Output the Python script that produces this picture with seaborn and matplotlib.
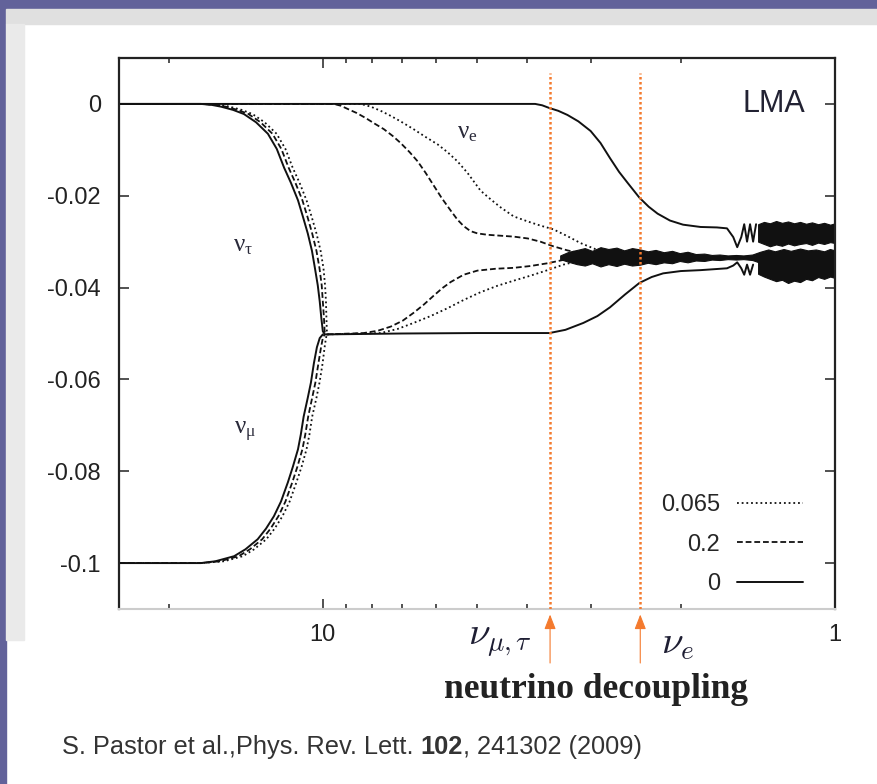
import numpy as np
import pandas as pd
import matplotlib
matplotlib.use("Agg")
import matplotlib.pyplot as plt
import seaborn as sns
from matplotlib.lines import Line2D
from matplotlib.patches import Rectangle

# ---------------- data ----------------
# theta13 = 0 (solid)
T_nue_0 = [25, 10, 5, 3.85, 3.73, 3.61, 3.47, 3.33, 3.17, 3.00, 2.87, 2.75, 2.64, 2.54, 2.41,
           2.31, 2.22, 2.10, 1.98, 1.83, 1.70, 1.625,
           1.58, 1.552, 1.524, 1.504, 1.485, 1.465, 1.445, 1.426]
V_nue_0 = [0, 0, 0, 0, -0.0003, -0.0009, -0.0015, -0.0024, -0.0038, -0.0059, -0.0085, -0.0118,
           -0.0148, -0.0172, -0.0204, -0.0224, -0.0239, -0.0254, -0.0263, -0.0268, -0.0269, -0.0271,
           -0.0290, -0.0312, -0.0290, -0.0262, -0.0300, -0.0262, -0.0300, -0.0262]

T_nutau_0 = [25, 20, 17.3, 16.5, 15.8, 14.97, 14.26, 13.5, 12.8, 12.3, 11.9, 11.54, 11.18, 10.94,
             10.7, 10.5, 10.36, 10.23, 10.14, 10.07, 10.0, 9.91, 7.0, 5.0, 3.61, 3.36, 3.10, 2.91,
             2.75, 2.57, 2.41, 2.28, 2.165, 2.0, 1.83, 1.625,
             1.58, 1.552, 1.524, 1.504, 1.485, 1.465, 1.445]
V_nutau_0 = [0, 0, 0, -0.0002, -0.0006, -0.0013, -0.0022, -0.0040, -0.0065, -0.0098, -0.0139,
             -0.0172, -0.0210, -0.0245, -0.0282, -0.0320, -0.0358, -0.0395, -0.0430, -0.0465,
             -0.0495, -0.0502, -0.0500, -0.0499, -0.0499, -0.0492, -0.0477, -0.0462, -0.0443,
             -0.0415, -0.0390, -0.0377, -0.0369, -0.0364, -0.0362, -0.0358,
             -0.0352, -0.0345, -0.0358, -0.0372, -0.0350, -0.0372, -0.0350]

T_numu_0 = [25, 20, 17.3, 16.2, 14.9, 14.16, 13.4, 12.91, 12.46, 12.07, 11.7, 11.44, 11.18, 11.04,
            10.9, 10.7, 10.55, 10.41, 10.27, 10.14, 10.0]
V_numu = [-0.1, -0.1, -0.1, -0.0996, -0.0985, -0.0970, -0.0948, -0.0925, -0.0898, -0.0866,
          -0.0824, -0.0790, -0.0752, -0.0720, -0.0681, -0.0640, -0.0607, -0.0565, -0.0530,
          -0.0510, -0.0502]

# theta13 = 0.2 (dashed)
T_nue_02 = [25, 10, 9.52, 9.22, 8.94, 8.58, 8.24, 7.92, 7.60, 7.30, 7.05, 6.77, 6.53, 6.30, 6.08,
            5.86, 5.63, 5.46, 5.31, 5.15, 4.99, 4.77, 4.50, 4.24, 3.98, 3.76, 3.55, 3.33, 3.14,
            2.94, 2.75]
V_nue_02 = [0, 0, 0, -0.0004, -0.0011, -0.0020, -0.0031, -0.0043, -0.0055, -0.0070, -0.0085,
            -0.0105, -0.0125, -0.0150, -0.0177, -0.0205, -0.0232, -0.0252, -0.0266, -0.0277,
            -0.0282, -0.0285, -0.0287, -0.0289, -0.0293, -0.0300, -0.0310, -0.0319, -0.0325,
            -0.0331, -0.0334]
T_nutau_02 = [25, 20, 17.3, 16.17, 15.48, 14.67, 13.97, 13.23, 12.54, 12.05, 11.66, 11.31, 10.96,
              10.72, 10.49, 10.29, 10.15, 10.05, 10.0, 9.95, 9.92, 9.87,
              8.32, 7.81, 7.37, 6.98, 6.65, 6.35, 6.08, 5.84, 5.63, 5.31, 4.99, 4.60, 4.24, 3.93,
              3.64, 3.40, 3.21, 3.00]
V_nutau_02 = [0, 0, 0, -0.0002, -0.0006, -0.0013, -0.0022, -0.0040, -0.0065, -0.0098, -0.0139,
              -0.0172, -0.0210, -0.0245, -0.0282, -0.0320, -0.0358, -0.0395, -0.0430, -0.0465,
              -0.0495, -0.0502,
              -0.0499, -0.0494, -0.0485, -0.0472, -0.0455, -0.0437, -0.0418, -0.0401, -0.0388,
              -0.0372, -0.0363, -0.0359, -0.0357, -0.0353, -0.0347, -0.0340, -0.0336, -0.0334]
T_numu_02 = [25, 20, 17.3, 15.88, 14.6, 13.88, 13.13, 12.65, 12.21, 11.83, 11.47, 11.21, 10.96,
             10.82, 10.68, 10.49, 10.34, 10.2, 10.08, 10.0, 9.92]

# theta13 = 0.065 (dotted)
T_nue_0065 = [25, 10, 8.43, 8.06, 7.71, 7.37, 7.05, 6.65, 6.30, 5.97, 5.71, 5.46, 5.22, 4.92, 4.70,
              4.50, 4.24, 3.98, 3.76, 3.55, 3.33, 3.14, 2.94, 2.71, 2.51]
V_nue_0065 = [0, 0, 0, -0.0006, -0.0015, -0.0026, -0.0038, -0.0055, -0.0072, -0.0088, -0.0105,
              -0.0125, -0.0150, -0.0189, -0.0208, -0.0225, -0.0245, -0.0256, -0.0265, -0.0273,
              -0.0288, -0.0303, -0.0316, -0.0326, -0.0332]
T_nutau_0065 = [25, 20, 17.3, 15.87, 15.2, 14.4, 13.72, 12.99, 12.31, 11.83, 11.45, 11.1, 10.76,
                10.52, 10.29, 10.10, 9.97, 9.90, 9.86, 9.84, 9.82, 9.80,
                7.71, 7.14, 6.65, 6.16, 5.71, 5.31, 4.92, 4.56, 4.24, 3.93, 3.64, 3.39, 3.14, 2.91,
                2.71]
V_nutau_0065 = [0, 0, 0, -0.0002, -0.0006, -0.0013, -0.0022, -0.0040, -0.0065, -0.0098, -0.0139,
                -0.0172, -0.0210, -0.0245, -0.0282, -0.0320, -0.0358, -0.0395, -0.0430, -0.0465,
                -0.0495, -0.0502,
                -0.0499, -0.0490, -0.0477, -0.0462, -0.0445, -0.0427, -0.0410, -0.0396, -0.0385,
                -0.0374, -0.0362, -0.0350, -0.0341, -0.0336, -0.0334]
T_numu_0065 = [25, 20, 17.3, 15.58, 14.33, 13.62, 12.89, 12.42, 11.99, 11.61, 11.26, 11.0, 10.76,
               10.62, 10.49, 10.29, 10.15, 10.01, 9.92, 9.86, 9.82]

# oscillation bands (edges)
T_bandB = [3.44, 3.31, 3.19, 3.08, 2.98, 2.87, 2.77, 2.67, 2.58, 2.49, 2.40, 2.32, 2.24, 2.16,
           2.08, 2.01, 1.94, 1.87, 1.80, 1.74, 1.68, 1.62, 1.56, 1.51, 1.45, 1.40, 1.35, 1.31,
           1.26, 1.22, 1.17, 1.13, 1.09, 1.05, 1.023, 1.0]
B_up = [-0.0330, -0.0322, -0.0318, -0.0314, -0.0320, -0.0312, -0.0316, -0.0313, -0.0319, -0.0314,
        -0.0317, -0.0321, -0.0318, -0.0323, -0.0320, -0.0325, -0.0322, -0.0327, -0.0326, -0.0329,
        -0.0328, -0.0330, -0.0329, -0.0330, -0.0328, -0.0322, -0.0317, -0.0321, -0.0316, -0.0320,
        -0.0315, -0.0319, -0.0317, -0.0321, -0.0316, -0.0319]
B_lo = [-0.0338, -0.0344, -0.0349, -0.0352, -0.0347, -0.0354, -0.0349, -0.0353, -0.0348, -0.0352,
        -0.0350, -0.0346, -0.0349, -0.0345, -0.0347, -0.0342, -0.0345, -0.0341, -0.0342, -0.0339,
        -0.0340, -0.0338, -0.0339, -0.0338, -0.0340, -0.0346, -0.0350, -0.0347, -0.0352, -0.0348,
        -0.0353, -0.0349, -0.0351, -0.0347, -0.0352, -0.0349]

T_bandAC = [1.413, 1.376, 1.340, 1.303, 1.269, 1.235, 1.202, 1.170, 1.139, 1.109, 1.079, 1.050,
            1.022, 1.0]
A_up = [-0.0262, -0.0257, -0.0260, -0.0255, -0.0259, -0.0256, -0.0260, -0.0257, -0.0261, -0.0258,
        -0.0262, -0.0259, -0.0263, -0.0260]
A_lo = [-0.0300, -0.0305, -0.0310, -0.0306, -0.0309, -0.0304, -0.0308, -0.0305, -0.0303, -0.0307,
        -0.0302, -0.0305, -0.0301, -0.0303]
C_up = [-0.0340, -0.0337, -0.0339, -0.0336, -0.0338, -0.0335, -0.0337, -0.0336, -0.0338, -0.0335,
        -0.0337, -0.0336, -0.0338, -0.0336]
C_lo = [-0.0370, -0.0376, -0.0381, -0.0386, -0.0383, -0.0390, -0.0385, -0.0388, -0.0381, -0.0384,
        -0.0377, -0.0381, -0.0376, -0.0379]

T_decoupling = [3.6, 2.4]
legend_labels = ["0.065", "0.2", "0"]
x_major = [10, 1]
x_major_labels = ["10", "1"]
x_minor = [20, 9, 8, 7, 6, 5, 4, 3, 2]
y_ticks = [0, -0.02, -0.04, -0.06, -0.08, -0.1]
y_tick_labels = ["0", "-0.02", "-0.04", "-0.06", "-0.08", "-0.1"]

# ---------------- style ----------------
sns.set_style("ticks")
plt.rcParams["font.family"] = ["Liberation Sans", "DejaVu Sans"]
plt.rcParams["mathtext.fontset"] = "custom"
plt.rcParams["mathtext.rm"] = "Liberation Serif"
plt.rcParams["mathtext.it"] = "Liberation Serif:italic"
plt.rcParams["axes.unicode_minus"] = False

W, H = 878, 784
fig = plt.figure(figsize=(W / 100, H / 100), dpi=100, facecolor="white")

purple = "#62629a"
fig.patches.append(Rectangle((0, 1 - 9 / H), 1, 9 / H, transform=fig.transFigure,
                             color=purple, zorder=-10))
fig.patches.append(Rectangle((0, 0), 6 / W, 1, transform=fig.transFigure, color=purple, zorder=-10))
fig.patches.append(Rectangle((6 / W, 1 - 24 / H), 1, 15 / H, transform=fig.transFigure,
                             color="#e0e0e0", zorder=-9))
fig.patches.append(Rectangle((6 / W, 1 - 640 / H), 18 / W, 616 / H, transform=fig.transFigure,
                             color="#eaeaea", zorder=-9))

ax = fig.add_axes([119 / W, 1 - 609 / H, (835 - 119) / W, (609 - 58) / H])
ax.set_xscale("log")

black = "#111111"
solid = "-"
dashed = (0, (3.2, 1.6))
dotted = (0, (1.0, 1.6))


def draw(T, V, ls, lw=1.3):
    sns.lineplot(x=T, y=V, ax=ax, color=black, linewidth=lw, linestyle=ls,
                 sort=False, estimator=None, legend=False)


draw(T_nue_0065, V_nue_0065, dotted)
draw(T_nutau_0065, V_nutau_0065, dotted)
draw(T_numu_0065, V_numu, dotted)
draw(T_nue_02, V_nue_02, dashed)
draw(T_nutau_02, V_nutau_02, dashed)
draw(T_numu_02, V_numu, dashed)
draw(T_nue_0, V_nue_0, solid, 1.4)
draw(T_nutau_0, V_nutau_0, solid, 1.4)
draw(T_numu_0, V_numu, solid, 1.4)

for Tb, up, lo in [(T_bandAC, A_up, A_lo), (T_bandB, B_up, B_lo), (T_bandAC, C_up, C_lo)]:
    ax.fill_between(Tb, lo, up, color=black, linewidth=0.8, edgecolor=black)

orange = "#f47a2e"
for Td in T_decoupling:
    ax.axvline(Td, ymin=0, ymax=0.973, color=orange, lw=1.8, linestyle=(0, (1.0, 1.0)), zorder=5)
    ax.annotate("", xy=(Td, -0.010), xycoords=ax.get_xaxis_transform(),
                xytext=(Td, -0.098), textcoords=ax.get_xaxis_transform(),
                arrowprops=dict(arrowstyle="-|>,head_length=0.9,head_width=0.35",
                                color=orange, lw=0.8, shrinkA=0, shrinkB=0),
                annotation_clip=False)

ax.set_xlim(25, 1)
ax.set_ylim(-0.11, 0.01)
ax.set_xticks(x_major)
ax.set_xticklabels(x_major_labels)
ax.set_xticks(x_minor, minor=True)
ax.set_xticklabels([""] * len(x_minor), minor=True)
ax.set_yticks(y_ticks)
ax.set_yticklabels(y_tick_labels)
ax.tick_params(axis="both", which="major", direction="in", length=7, width=1.2,
               labelsize=17, colors="#333333", labelcolor="#222222", top=True, right=True)
ax.tick_params(axis="x", which="major", pad=11)
ax.tick_params(axis="y", which="major", pad=13)
ax.tick_params(axis="x", which="minor", direction="in", length=3.5, width=1.2,
               colors="#333333", top=True, bottom=True)
ax.set_xlabel("")
ax.set_ylabel("")
for s in ["left", "top", "right"]:
    ax.spines[s].set_color("#222222")
    ax.spines[s].set_linewidth(1.6)
ax.spines["bottom"].set_color("#cccccc")
ax.spines["bottom"].set_linewidth(1.5)

txtc = "#2a2a3a"
ax.text(1.144, 0.0, "LMA", ha="right", va="center", fontsize=22, color="#222233")
ax.text(5.22, -0.0061, r"$\mathrm{ν_e}$", ha="center", va="center", fontsize=18, color=txtc)
ax.text(14.3, -0.0308, r"$\mathrm{ν_τ}$", ha="center", va="center", fontsize=18, color=txtc)
ax.text(14.2, -0.0714, r"$\mathrm{ν_μ}$", ha="center", va="center", fontsize=18, color=txtc)

handles = [Line2D([], [], color=black, lw=1.3, linestyle=dotted),
           Line2D([], [], color=black, lw=1.3, linestyle=dashed),
           Line2D([], [], color=black, lw=1.4, linestyle=solid)]
ax.legend(handles, legend_labels, loc="lower right", bbox_to_anchor=(0.985, -0.014),
          frameon=False, markerfirst=False, handlelength=2.8, fontsize=17,
          labelspacing=0.75, handletextpad=0.7)

xt = ax.get_xaxis_transform()
ax.text(4.5, -0.06, r"$\nu_{\mu,\tau}$", transform=xt, ha="center", va="center",
        fontsize=28, color="#1e1e33", math_fontfamily="cm")
ax.text(2.03, -0.063, r"$\nu_e$", transform=xt, ha="center", va="center",
        fontsize=28, color="#1e1e33", math_fontfamily="cm")
fig.text(596 / W, 1 - 689 / H, "neutrino decoupling", ha="center", va="center",
         fontsize=25.5, fontweight="bold", family="Liberation Serif", color="#222222")

t1 = fig.text(62 / W, 1 - 754 / H, "S. Pastor et al.,Phys. Rev. Lett. ", ha="left",
              va="baseline", fontsize=18.3, color="#333333")
t2 = ax.annotate("102", xy=(1, 0), xycoords=t1, ha="left", va="bottom", fontsize=18.3,
                 fontweight="bold", color="#333333", annotation_clip=False)
t3 = ax.annotate(", 241302 (2009)", xy=(1, 0), xycoords=t2, ha="left", va="bottom",
                 fontsize=18.3, color="#333333", annotation_clip=False)

fig.savefig("out.png", dpi=100, facecolor=fig.get_facecolor())
